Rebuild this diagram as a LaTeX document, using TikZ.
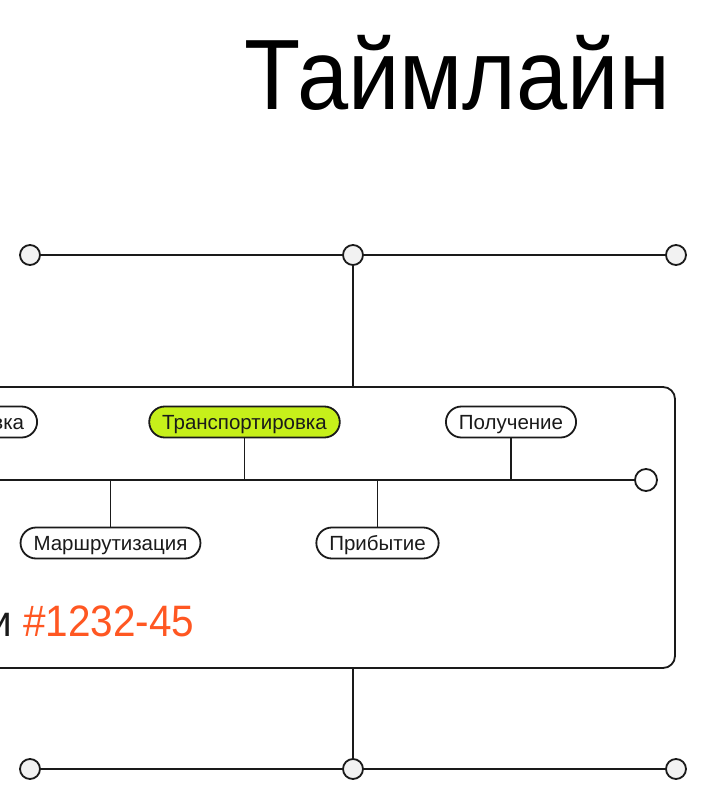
\documentclass[tikz,border=0pt]{standalone}
\usepackage{fontspec}
\setmainfont{Liberation Sans}
\newfontfamily\narrowfont[FakeStretch=0.92]{Liberation Sans}
\definecolor{ink}{HTML}{1A1A1A}
\definecolor{dotfill}{HTML}{F2F2F2}
\definecolor{lime}{HTML}{C6F01A}
\definecolor{accent}{HTML}{FF5722}
\begin{document}
\begin{tikzpicture}[x=1pt,y=-1pt,
  wire/.style={draw=ink,line width=1.8pt},
  dot/.style={circle,draw=ink,line width=1.8pt,fill=dotfill,minimum size=20pt,inner sep=0pt},
  wdot/.style={circle,draw=ink,line width=1.8pt,fill=white,minimum size=22pt,inner sep=0pt},
  pill/.style={draw=ink,line width=1.8pt,rounded corners=15.5pt,minimum height=31pt,inner xsep=13pt,inner ysep=0pt,text height=14.7pt,text depth=0pt,fill=white,font=\fontsize{20.5}{22}\selectfont,text=ink},
  frame/.style={draw=ink,line width=1.8pt,rounded corners=12pt,inner sep=0pt}
]
\useasboundingbox (0,0) rectangle (706,800);
\clip (0,0) rectangle (706,800);
\fill[white] (0,0) rectangle (706,800);

% title
\node[anchor=base east,inner sep=0pt,font=\narrowfont\fontsize{100}{110}\selectfont] (title) at (670,109) {Таймлайн};

% top row
\node[dot] (t1) at (30,255) {};
\node[dot] (t2) at (353,255) {};
\node[dot] (t3) at (676,255) {};
\draw[wire] (t1) -- (t2);
\draw[wire] (t2) -- (t3);

% frame
\node[frame,minimum width=735pt,minimum height=281pt] (box) at (307.5,527.5) {};
\draw[wire] (t2) -- (t2 |- box.north);

% bottom row
\node[dot] (b1) at (30,769) {};
\node[dot] (b2) at (353,769) {};
\node[dot] (b3) at (676,769) {};
\draw[wire] (b1) -- (b2);
\draw[wire] (b2) -- (b3);
\draw[wire] (b2 |- box.south) -- (b2);

% inner timeline
\coordinate (lineL) at (-20,480);
\node[wdot] (rc) at (646,480) {};
\draw[wire] (lineL) -- (rc);

\node[pill,anchor=east] (p0) at (38,422) {Упаковка};
\node[pill,fill=lime] (p1) at (244.5,422) {Транспортировка};
\node[pill] (p2) at (511,422) {Получение};
\node[pill] (p3) at (110.5,543) {Маршрутизация};
\node[pill] (p4) at (377.5,543) {Прибытие};

\draw[wire] (p1.south) -- (p1.south |- lineL);
\draw[wire] (p2.south) -- (p2.south |- lineL);
\draw[wire] (p3.north |- lineL) -- (p3.north);
\draw[wire] (p4.north |- lineL) -- (p4.north);

% order label
\node[anchor=base west,inner sep=0pt,font=\narrowfont\fontsize{44}{50}\selectfont,text=accent] (num) at (23,636) {\#1232-45};
\node[anchor=base east,inner sep=0pt,font=\narrowfont\fontsize{44}{50}\selectfont,text=ink] (lbl) at (12,636) {Номер поставки};
\end{tikzpicture}
\end{document}
